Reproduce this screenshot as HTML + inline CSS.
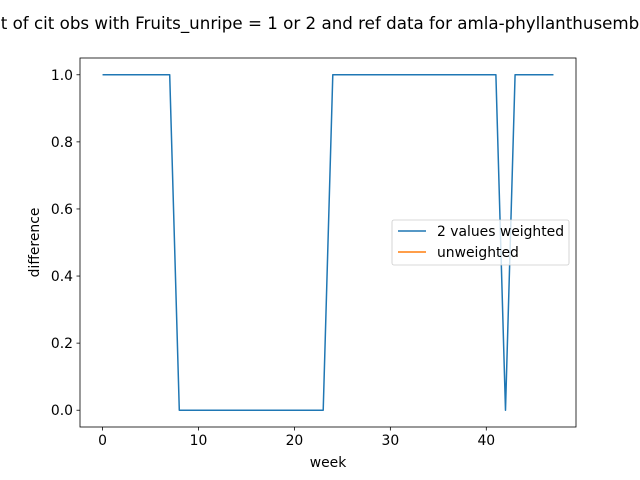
<!DOCTYPE html>
<html><head><meta charset="utf-8"><style>
body{margin:0;background:#fff;}
svg{display:block;font-family:"DejaVu Sans","Liberation Sans",sans-serif;}
</style></head><body>
<svg id="chart" width="640" height="480">
<rect width="640" height="480" fill="#fff"/>
<text x="320" y="29" font-size="16.7" text-anchor="middle">t of cit obs with Fruits_unripe = 1 or 2 and ref data for amla-phyllanthusemb</text>
<g id="axes"></g>
<rect x="80" y="58" width="496" height="369" fill="none" stroke="#000" stroke-width="0.8"/>
<text x="328" y="467" font-size="13.9" text-anchor="middle">week</text>
<text transform="translate(39,242.5) rotate(-90)" font-size="13.9" text-anchor="middle">difference</text>
<g>
<rect x="392" y="220" width="177" height="45" rx="2" fill="#fff" fill-opacity="0.8" stroke="#ccc" stroke-width="0.8"/>
<line x1="398" y1="231" x2="426" y2="231" stroke="#1f77b4" stroke-width="1.5"/>
<text x="437" y="236" font-size="13.9">2 values weighted</text>
<line x1="398" y1="252" x2="426" y2="252" stroke="#ff7f0e" stroke-width="1.5"/>
<text x="437" y="257" font-size="13.9">unweighted</text>
</g>
</svg>
<script>
const weeks = [];
for (let i = 0; i < 48; i++) weeks.push(i);
const weightedValues = [1,1,1,1,1,1,1,1,0,0,0,0,0,0,0,0,0,0,0,0,0,0,0,0,1,1,1,1,1,1,1,1,1,1,1,1,1,1,1,1,1,1,0,1,1,1,1,1];
const xTicks = [0,10,20,30,40];
const yTicks = [0.0,0.2,0.4,0.6,0.8,1.0];
const yTickLabels = ["0.0","0.2","0.4","0.6","0.8","1.0"];

const L=80,R=576,T=58,B=427;
const xMin=-2.35,xMax=49.35,yMin=-0.05,yMax=1.05;
const xs=v=>L+(v-xMin)/(xMax-xMin)*(R-L);
const ys=v=>B-(v-yMin)/(yMax-yMin)*(B-T);
const NS="http://www.w3.org/2000/svg";
const g=document.getElementById('axes');
function mk(tag,attrs){const e=document.createElementNS(NS,tag);for(const k in attrs)e.setAttribute(k,attrs[k]);g.appendChild(e);return e;}
xTicks.forEach(t=>{
  const l=mk('line',{x1:xs(t),x2:xs(t),y1:B,y2:B+3.5,stroke:'#000','stroke-width':0.8});
  
  
  const tx=mk('text',{x:xs(t),y:B+18,'font-size':13.9,'text-anchor':'middle'});
  tx.textContent=t;
  
  
});
yTicks.forEach((t,i)=>{
  const l=mk('line',{x1:L-3.5,x2:L,y1:ys(t),y2:ys(t),stroke:'#000','stroke-width':0.8});
  
  
  const tx=mk('text',{x:L-7,y:ys(t)+5,'font-size':13.9,'text-anchor':'end'});
  tx.textContent=yTickLabels[i];
  
  
});
const p=mk('polyline',{points:weeks.map((w,i)=>xs(w)+','+ys(weightedValues[i])).join(' '),fill:'none',stroke:'#1f77b4','stroke-width':1.5,'stroke-linejoin':'round'});


</script>
</body></html>
